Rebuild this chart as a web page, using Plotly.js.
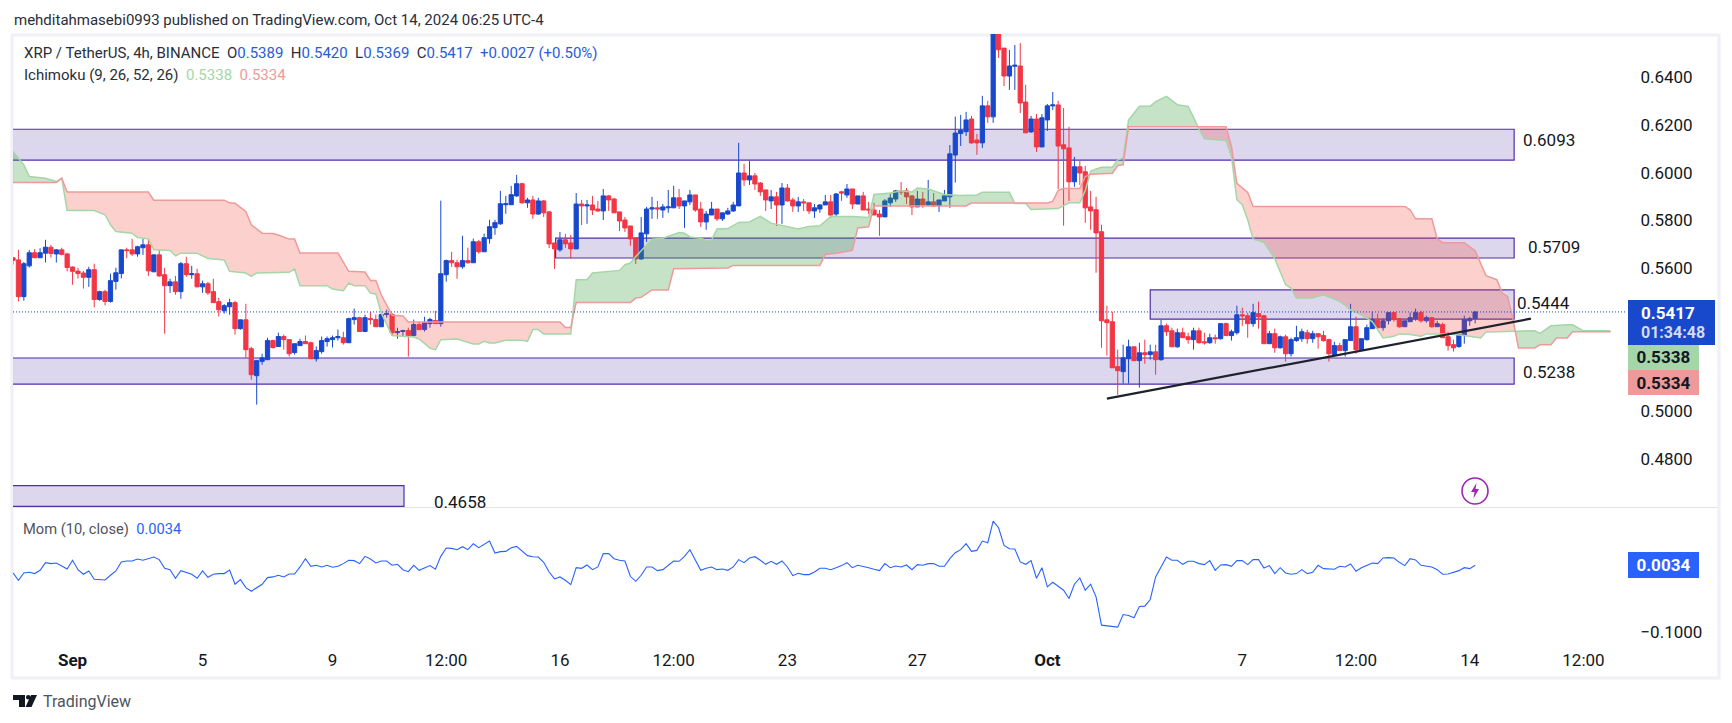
<!DOCTYPE html>
<html><head><meta charset="utf-8">
<script src="https://cdn.plot.ly/plotly-3.0.1.min.js"></script>
<style>html,body{margin:0;padding:0;background:#fff}#c{width:1732px;height:723px}</style>
</head><body><div id="c"></div>
<script>
// ---------- values ----------
var firstBar = '2024-08-30 04:00';
var opens = [
.5644,.5635,.5481,.5610,.5665,.5644,.5663,.5688,.5660,.5677,
.5660,.5605,.5588,.5580,.5562,.5594,.5469,.5502,.5461,.5545,
.5578,.5677,.5677,.5660,.5686,.5698,.5585,.5656,.5573,.5527,
.5543,.5502,.5619,.5573,.5577,.5522,.5535,.5502,.5460,.5422,
.5439,.5456,.5347,.5384,.5263,.5150,.5210,.5217,.5297,.5272,
.5314,.5301,.5247,.5276,.5293,.5288,.5221,.5251,.5293,.5301,
.5309,.5309,.5288,.5385,.5393,.5335,.5389,.5385,.5355,.5406,
.5406,.5330,.5335,.5339,.5318,.5364,.5343,.5368,.5381,.5368,
.5573,.5632,.5623,.5606,.5632,.5623,.5711,.5669,.5724,.5770,
.5786,.5866,.5866,.5903,.5954,.5874,.5886,.5827,.5882,.5836,
.5706,.5677,.5719,.5706,.5681,.5869,.5861,.5865,.5848,.5840,
.5903,.5890,.5836,.5802,.5777,.5727,.5639,.5744,.5848,.5853,
.5844,.5853,.5853,.5895,.5861,.5878,.5907,.5848,.5794,.5823,
.5848,.5807,.5827,.5840,.5861,.5999,.5970,.5987,.5957,.5928,
.5882,.5899,.5865,.5936,.5886,.5861,.5878,.5874,.5840,.5848,
.5865,.5878,.5827,.5920,.5907,.5932,.5869,.5903,.5848,.5844,
.5827,.5815,.5874,.5890,.5924,.5924,.5903,.5857,.5890,.5865,
.5878,.5861,.5882,.5899,.6074,.6164,.6172,.6225,.6137,.6125,
.6280,.6234,.6600,.6522,.6405,.6446,.6447,.6296,.6171,.6225,
.6108,.6221,.6280,.6284,.6117,.6104,.5962,.6025,.6004,.5857,
.5845,.5753,.5384,.5376,.5188,.5167,.5221,.5271,.5213,.5246,
.5238,.5250,.5217,.5359,.5338,.5271,.5330,.5313,.5301,.5338,
.5292,.5288,.5309,.5305,.5368,.5318,.5330,.5405,.5401,.5368,
.5410,.5401,.5284,.5326,.5267,.5313,.5242,.5297,.5305,.5330,
.5305,.5326,.5318,.5301,.5238,.5276,.5255,.5297,.5355,.5259,
.5301,.5347,.5385,.5351,.5380,.5414,.5389,.5355,.5376,.5389,
.5414,.5380,.5393,.5355,.5364,.5313,.5280,.5272,.5318,.5380,.5389];
var highs = [
.5647,.5677,.5626,.5677,.5680,.5684,.5719,.5698,.5680,.5686,
.5665,.5608,.5602,.5589,.5606,.5619,.5506,.5510,.5577,.5602,
.5677,.5686,.5723,.5694,.5723,.5723,.5656,.5677,.5602,.5556,
.5568,.5627,.5648,.5610,.5598,.5548,.5543,.5556,.5476,.5450,
.5472,.5464,.5384,.5451,.5271,.5213,.5242,.5309,.5301,.5330,
.5322,.5301,.5284,.5305,.5318,.5293,.5272,.5314,.5314,.5318,
.5343,.5334,.5393,.5431,.5397,.5406,.5417,.5406,.5413,.5427,
.5413,.5351,.5343,.5351,.5385,.5376,.5397,.5393,.5422,.5883,
.5636,.5669,.5636,.5736,.5686,.5724,.5719,.5745,.5803,.5803,
.5924,.5903,.5945,.5991,.5958,.5895,.5903,.5895,.5886,.5840,
.5706,.5752,.5744,.5740,.5915,.5886,.5886,.5903,.5882,.5932,
.5907,.5895,.5836,.5815,.5777,.5731,.5815,.5857,.5899,.5882,
.5869,.5928,.5945,.5932,.5882,.5928,.5907,.5878,.5840,.5878,
.5848,.5832,.5853,.5878,.6125,.6037,.6049,.5999,.5961,.5928,
.5928,.5920,.5957,.5953,.5895,.5899,.5890,.5874,.5869,.5869,
.5907,.5907,.5915,.5924,.5953,.5932,.5903,.5920,.5878,.5874,
.5844,.5890,.5911,.5928,.5961,.5936,.5907,.5924,.5920,.5970,
.5915,.5886,.5928,.6116,.6235,.6242,.6255,.6238,.6163,.6322,
.6301,.6640,.6620,.6522,.6514,.6535,.6543,.6368,.6238,.6246,
.6246,.6288,.6338,.6301,.6271,.6192,.6066,.6050,.6029,.5924,
.5899,.5782,.5443,.5418,.5259,.5280,.5301,.5271,.5288,.5301,
.5280,.5280,.5384,.5368,.5351,.5347,.5351,.5330,.5351,.5351,
.5330,.5326,.5322,.5368,.5372,.5343,.5443,.5435,.5414,.5451,
.5460,.5405,.5338,.5347,.5318,.5322,.5309,.5359,.5347,.5343,
.5338,.5326,.5338,.5305,.5292,.5288,.5301,.5451,.5397,.5305,
.5364,.5418,.5410,.5389,.5414,.5414,.5389,.5380,.5414,.5431,
.5422,.5401,.5393,.5380,.5372,.5334,.5301,.5322,.5401,.5397,.5420];
var lows = [
.5615,.5461,.5464,.5603,.5644,.5644,.5624,.5645,.5624,.5654,
.5587,.5531,.5557,.5515,.5522,.5436,.5464,.5444,.5456,.5510,
.5557,.5642,.5652,.5648,.5656,.5568,.5585,.5564,.5326,.5497,
.5489,.5472,.5564,.5556,.5520,.5497,.5488,.5456,.5398,.5410,
.5405,.5322,.5343,.5225,.5133,.5029,.5196,.5217,.5263,.5272,
.5259,.5230,.5238,.5276,.5284,.5221,.5209,.5242,.5272,.5268,
.5297,.5280,.5288,.5364,.5335,.5335,.5364,.5355,.5355,.5393,
.5318,.5305,.5314,.5230,.5318,.5343,.5335,.5351,.5368,.5355,
.5544,.5606,.5556,.5598,.5619,.5623,.5661,.5669,.5703,.5740,
.5782,.5828,.5866,.5899,.5870,.5853,.5807,.5823,.5815,.5685,
.5597,.5669,.5685,.5642,.5681,.5781,.5786,.5823,.5836,.5802,
.5840,.5832,.5756,.5752,.5694,.5618,.5635,.5710,.5807,.5807,
.5811,.5832,.5853,.5848,.5769,.5865,.5836,.5773,.5761,.5823,
.5798,.5798,.5823,.5836,.5861,.5945,.5949,.5928,.5903,.5840,
.5848,.5777,.5786,.5878,.5836,.5836,.5840,.5827,.5811,.5832,
.5865,.5811,.5819,.5882,.5895,.5848,.5869,.5844,.5827,.5823,
.5736,.5815,.5857,.5878,.5907,.5869,.5823,.5857,.5853,.5865,
.5857,.5836,.5882,.5853,.5959,.6112,.6154,.6121,.6075,.6104,
.6209,.6209,.6481,.6363,.6347,.6347,.6250,.6167,.6167,.6087,
.6108,.6175,.6263,.5932,.5778,.5882,.5941,.5949,.5790,.5761,
.5581,.5267,.5234,.5183,.5070,.5117,.5117,.5213,.5100,.5200,
.5217,.5154,.5213,.5317,.5271,.5267,.5309,.5284,.5259,.5284,
.5280,.5284,.5284,.5301,.5318,.5297,.5322,.5359,.5309,.5355,
.5347,.5284,.5284,.5246,.5263,.5209,.5230,.5292,.5292,.5284,
.5288,.5263,.5292,.5209,.5234,.5255,.5230,.5297,.5242,.5255,
.5297,.5347,.5347,.5338,.5364,.5376,.5351,.5355,.5376,.5380,
.5372,.5372,.5351,.5355,.5309,.5255,.5251,.5267,.5284,.5359,.5369];
var closes = [
.5633,.5481,.5619,.5665,.5644,.5665,.5688,.5662,.5677,.5658,
.5603,.5587,.5578,.5562,.5594,.5469,.5502,.5461,.5548,.5581,
.5677,.5674,.5660,.5690,.5698,.5589,.5656,.5568,.5527,.5543,
.5502,.5619,.5573,.5577,.5522,.5535,.5497,.5456,.5426,.5443,
.5456,.5347,.5384,.5259,.5154,.5213,.5225,.5297,.5268,.5314,
.5301,.5242,.5284,.5293,.5284,.5221,.5255,.5297,.5305,.5309,
.5314,.5288,.5389,.5393,.5335,.5393,.5385,.5355,.5406,.5410,
.5330,.5335,.5339,.5318,.5364,.5343,.5372,.5385,.5368,.5577,
.5632,.5623,.5606,.5632,.5623,.5711,.5669,.5728,.5774,.5791,
.5870,.5870,.5908,.5954,.5874,.5886,.5827,.5882,.5832,.5702,
.5681,.5719,.5702,.5681,.5869,.5861,.5865,.5844,.5840,.5903,
.5886,.5832,.5798,.5769,.5723,.5639,.5748,.5848,.5853,.5848,
.5857,.5857,.5895,.5861,.5882,.5907,.5844,.5794,.5827,.5848,
.5807,.5832,.5840,.5865,.5999,.5970,.5987,.5953,.5920,.5886,
.5899,.5865,.5936,.5882,.5861,.5878,.5874,.5840,.5853,.5865,
.5878,.5823,.5911,.5915,.5932,.5869,.5903,.5844,.5844,.5823,
.5815,.5882,.5894,.5924,.5920,.5899,.5857,.5890,.5865,.5878,
.5861,.5886,.5903,.6079,.6166,.6177,.6221,.6125,.6125,.6280,
.6234,.6600,.6515,.6405,.6447,.6450,.6292,.6167,.6225,.6108,
.6230,.6280,.6284,.6112,.6100,.5962,.6025,.5999,.5853,.5840,
.5748,.5380,.5372,.5183,.5171,.5225,.5271,.5213,.5246,.5238,
.5250,.5217,.5359,.5334,.5271,.5330,.5309,.5301,.5338,.5288,
.5288,.5309,.5305,.5368,.5318,.5334,.5405,.5401,.5368,.5414,
.5397,.5284,.5326,.5267,.5313,.5242,.5301,.5309,.5334,.5305,
.5326,.5313,.5297,.5242,.5276,.5255,.5301,.5355,.5259,.5305,
.5351,.5385,.5351,.5380,.5414,.5385,.5355,.5380,.5393,.5414,
.5380,.5393,.5355,.5368,.5309,.5276,.5267,.5322,.5385,.5389,.5417];
var momentum = [
-.0085,-.0199,-.0085,-.0075,-.0095,-.0044,.0075,.0060,.0070,.0018,
-.0023,.0112,-.0034,-.0106,-.0054,-.0183,-.0183,-.0194,-.0121,-.0054,
.0086,.0101,.0101,.0132,.0112,.0132,.0163,.0122,-.0013,-.0034,
-.0168,-.0049,-.0075,-.0106,-.0168,-.0054,-.0152,-.0106,-.0095,-.0095,
-.0039,-.0261,-.0189,-.0313,-.0370,-.0318,-.0261,-.0158,-.0147,-.0121,
-.0147,-.0101,-.0101,.0008,.0137,.0018,.0034,.0008,.0034,.0003,
.0018,.0060,.0112,.0106,.0060,.0173,.0132,.0070,.0101,.0101,
.0034,.0049,-.0034,-.0065,.0034,-.0044,-.0003,.0029,-.0028,.0173,
.0302,.0297,.0277,.0323,.0277,.0370,.0308,.0359,.0411,.0225,
.0246,.0251,.0308,.0328,.0256,.0184,.0168,.0163,.0080,-.0070,
-.0178,-.0147,-.0199,-.0266,-.0003,-.0013,.0039,-.0034,.0008,.0215,
.0215,.0137,.0112,.0101,-.0137,-.0215,-.0121,.0008,.0008,-.0049,
-.0034,.0029,.0101,.0096,.0173,.0277,.0112,-.0044,-.0013,.0008,
-.0034,-.0023,-.0044,.0008,.0122,.0075,.0148,.0168,.0112,.0049,
.0096,.0049,.0101,.0008,-.0127,-.0090,-.0111,-.0111,-.0070,-.0013,
-.0013,-.0034,-.0003,.0029,.0075,-.0003,.0034,.0018,-.0003,-.0028,
-.0049,.0060,-.0003,.0023,.0008,.0039,-.0034,.0044,.0034,.0060,
.0060,.0018,.0018,.0137,.0230,.0277,.0370,.0251,.0266,.0411,
.0385,.0721,.0618,.0344,.0292,.0287,.0086,.0049,.0106,-.0168,
-.0003,-.0302,-.0230,-.0292,-.0354,-.0483,-.0261,-.0163,-.0354,-.0261,
-.0457,-.0897,-.0907,-.0928,-.0928,-.0732,-.0747,-.0783,-.0607,-.0602,
-.0498,-.0147,-.0003,.0163,.0112,.0112,.0049,.0096,.0096,.0060,
.0044,.0106,-.0044,.0039,.0044,.0018,.0106,.0106,.0044,.0122,
.0122,-.0008,.0029,-.0095,-.0003,-.0085,-.0106,-.0095,-.0034,-.0095,
-.0075,.0034,-.0018,-.0023,-.0028,.0018,.0008,.0054,-.0059,-.0003,
.0034,.0070,.0060,.0148,.0153,.0148,.0080,.0029,.0137,.0117,
.0034,.0018,.0008,-.0034,-.0106,-.0101,-.0075,-.0049,-.0003,-.0018,.0034];
var leadABars = [0,2,3,6,8,9,10,15,17,18,19,22,23,25,26,29,30,31,34,36,39,40,43,44,45,51,52,53,58,59,61,62,63,65,66,67,68,70,74,75,77,78,79,82,85,86,87,88,89,91,94,95,96,97,98,103,104,106,107,112,113,114,115,117,118,120,123,124,125,127,128,129,130,132,134,136,138,140,143,145,147,149,151,155,158,159,162,164,166,167,169,171,172,175,178,179,184,185,187,188,193,195,197,198,199,200,201,203,204,205,206,208,210,211,213,215,217,218,219,220,223,224,225,226,227,228,229,231,233,235,236,237,240,242,245,246,247,249,251,252,253,255,256,258,260,261,265,268,270,271,272,277,278,281,282,284,287,288,290,295];
var leadA = [.6089,.6033,.5984,.5977,.5963,.5977,.5842,.5842,.5824,.5782,.5754,.5747,.5729,.5723,.5677,.5674,.5652,.5663,.5663,.5641,.5635,.5587,.5580,.5566,.5580,.5583,.5597,.5527,.5527,.5513,.5506,.5538,.5527,.5527,.5496,.5492,.5413,.5318,.5312,.5304,.5266,.5258,.5301,.5304,.5283,.5283,.5294,.5287,.5287,.5298,.5298,.5294,.5343,.5343,.5325,.5325,.5552,.5552,.5580,.5591,.5615,.5622,.5649,.5698,.5722,.5726,.5750,.5747,.5731,.5726,.5716,.5718,.5764,.5766,.5792,.5794,.5817,.5789,.5775,.5764,.5775,.5778,.5817,.5817,.5813,.5909,.5915,.5924,.5919,.5936,.5932,.5915,.5909,.5905,.5907,.5918,.5918,.5871,.5871,.5846,.5850,.5874,.5874,.5925,.6006,.6016,.6023,.6023,.6054,.6061,.6221,.6278,.6278,.6298,.6320,.6285,.6278,.6232,.6183,.6142,.6135,.6135,.6068,.5887,.5866,.5803,.5723,.5708,.5640,.5531,.5517,.5475,.5475,.5489,.5461,.5445,.5425,.5405,.5377,.5340,.5308,.5315,.5325,.5322,.5315,.5325,.5325,.5318,.5312,.5308,.5333,.5336,.5338,.5338,.5327,.5359,.5363,.5363,.5338,.5338];
var leadBBars = [0,8,9,10,25,26,39,40,41,43,44,46,48,49,51,52,53,60,62,65,66,67,68,70,72,73,101,102,103,104,114,115,116,118,121,122,132,133,149,150,152,155,156,158,159,176,177,191,192,193,194,197,198,199,203,204,205,206,224,225,226,228,229,257,258,259,262,263,264,268,270,272,274,275,276,277,278,281,282,284,285,287,288,295];
var leadB = [.5959,.5959,.5977,.5919,.5919,.5885,.5885,.5874,.5872,.5838,.5782,.5747,.5745,.5739,.5722,.5722,.5664,.5664,.5587,.5584,.5549,.5549,.5489,.5403,.5400,.5375,.5375,.5352,.5352,.5457,.5457,.5475,.5478,.5509,.5509,.5598,.5601,.5612,.5612,.5658,.5663,.5675,.5769,.5774,.5861,.5861,.5873,.5873,.5880,.5926,.5934,.5934,.5984,.5994,.5998,.6030,.6033,.6193,.6193,.6110,.5956,.5917,.5859,.5859,.5845,.5807,.5807,.5723,.5707,.5707,.5673,.5569,.5552,.5496,.5482,.5384,.5266,.5266,.5280,.5280,.5308,.5308,.5334,.5334];
// purple zones: top price, bottom price, first bar, last bar, label
var zoneTop    = [.6182,.5726,.5509,.5224,.4690];
var zoneBottom = [.6053,.5643,.5387,.5115,.4603];
var zoneStart  = [-2,100.2,210,-2,-2];
var zoneEnd    = [277.2,277.2,277.2,277.2,72.2];
var zoneLabels = ['0.6093','0.5709','0.5444','0.5238','0.4658'];
var trendBars  = [202,280.3];
var trendPrice = [.5054,.5389];
var lastPrice  = .5417;
var priceTicks = [.48,.50,.56,.58,.60,.62,.64];
var momTicks = [-.1];
var momTickText = ['\u22120.1000'];
var timeTicks = ['2024-09-01','2024-09-05','2024-09-09','2024-09-12 12:00','2024-09-16','2024-09-19 12:00','2024-09-23','2024-09-27','2024-10-01','2024-10-07','2024-10-10 12:00','2024-10-14','2024-10-17 12:00'];
var timeText = ['<b>Sep</b>','5','9','12:00','16','12:00','23','27','<b>Oct</b>','7','12:00','14','12:00'];

// ---------- helpers ----------
var FONT = 'Roboto, Arial, sans-serif';
var BLUE='#1848cc', RED='#f23645', GREEN_L='#a5d6a7', RED_L='#ef9a9a';
var L=13,R=1627,T=34,B=645,PANE=507.5;
var t0 = Date.UTC(2024,7,30,4);
function barTime(i){return new Date(t0+i*4*3600e3).toISOString().slice(0,19).replace('T',' ');}
function sx(px){return (px-L)/(R-L);}
function sy(py){return (B-py)/(B-T);}
var barTimes = opens.map(function(_,i){return barTime(i);});

function lerp(xs,ys,x){
  for(var i=1;i<xs.length;i++){ if(x<=xs[i]){var f=(x-xs[i-1])/(xs[i]-xs[i-1]);return ys[i-1]+f*(ys[i]-ys[i-1]);} }
  return ys[ys.length-1];
}
// kumo fill: one polygon per run where A stays above or below B
var grid = Array.from(new Set(leadABars.concat(leadBBars))).sort(function(a,b){return a-b;});
var runs=[], cur=null, prev=null;
grid.forEach(function(g){
  var a=lerp(leadABars,leadA,g), b=lerp(leadBBars,leadB,g), up=a>=b;
  if(prev && prev.up!==up){
    var d0=prev.a-prev.b, d1=a-b, f=d0/(d0-d1), gx=prev.g+f*(g-prev.g), v=prev.a+f*(a-prev.a);
    cur.pts.push({g:gx,a:v,b:v}); runs.push(cur); cur={up:up,pts:[{g:gx,a:v,b:v}]};
  }
  if(!cur) cur={up:up,pts:[]};
  cur.pts.push({g:g,a:a,b:b}); prev={g:g,a:a,b:b,up:up};
});
runs.push(cur);
var traces = runs.map(function(r){
  var xs=r.pts.map(function(p){return barTime(p.g);}), ya=r.pts.map(function(p){return p.a;}), yb=r.pts.map(function(p){return p.b;});
  return {type:'scatter',mode:'lines',x:xs.concat(xs.slice().reverse()),y:ya.concat(yb.slice().reverse()),
    fill:'toself',fillcolor:r.up?'rgba(67,160,71,0.3)':'rgba(244,67,54,0.25)',line:{width:0},hoverinfo:'skip',xaxis:'x',yaxis:'y'};
});
traces.push({type:'scatter',mode:'lines',x:leadABars.map(barTime),y:leadA,line:{color:GREEN_L,width:1.5},hoverinfo:'skip'});
traces.push({type:'scatter',mode:'lines',x:leadBBars.map(barTime),y:leadB,line:{color:RED_L,width:1.5},hoverinfo:'skip'});
traces.push({type:'scatter',mode:'lines',x:['2024-08-30 04:00','2024-10-18 20:00'],y:[lastPrice,lastPrice],line:{color:BLUE,width:1,dash:'1px,2px'},hoverinfo:'skip'});
traces.push({type:'candlestick',x:barTimes,open:opens,high:highs,low:lows,close:closes,whiskerwidth:0,
  increasing:{line:{color:BLUE,width:1},fillcolor:BLUE},decreasing:{line:{color:RED,width:1},fillcolor:RED},hoverinfo:'skip',xaxis:'x',yaxis:'y'});
traces.push({type:'scatter',mode:'lines',x:trendBars.map(barTime),y:trendPrice,line:{color:'#1e222d',width:2.2},hoverinfo:'skip'});
traces.push({type:'scatter',mode:'lines',x:barTimes,y:momentum,line:{color:'#2962ff',width:1.1},hoverinfo:'skip',xaxis:'x',yaxis:'y2'});

var shapes=[
 {type:'rect',xref:'paper',yref:'paper',x0:sx(12),x1:sx(1719),y0:sy(35),y1:sy(678),line:{color:'#f0f0f6',width:3},layer:'below'},
 {type:'line',xref:'paper',yref:'paper',x0:sx(13),x1:sx(1718),y0:sy(507.5),y1:sy(507.5),line:{color:'#e0e3eb',width:1.2},layer:'below'}
];
zoneTop.forEach(function(t,i){
  shapes.push({type:'rect',xref:'x',yref:'y',x0:barTime(zoneStart[i]),x1:barTime(zoneEnd[i]),y0:zoneBottom[i],y1:t,
    fillcolor:'#dcd7ec',line:{color:'#512da8',width:1.2},layer:'below'});
});
// alert icon
shapes.push({type:'circle',xref:'paper',yref:'paper',x0:sx(1462),x1:sx(1488),y0:sy(478),y1:sy(504),line:{color:'#9c27b0',width:1.6},fillcolor:'rgba(255,255,255,0)'});
function poly(pts,color){
  return {type:'path',xref:'paper',yref:'paper',line:{width:0},fillcolor:color,
    path:pts.map(function(p,i){return (i?'L':'M')+sx(p[0])+' '+sy(p[1]);}).join(' ')+' Z'};
}
shapes.push(poly([[1476.5,483],[1471,492],[1474.5,492],[1473.5,498.5],[1479,489],[1475.5,489]],'#9c27b0'));
// TradingView mark
shapes.push(poly([[13,695],[25,695],[25,707],[19,707],[19,700],[13,700]],'#131722'));
shapes.push(poly([[31,695],[37,695],[31.5,707],[25.5,707]],'#131722'));
shapes.push({type:'circle',xref:'paper',yref:'paper',x0:sx(26),x1:sx(30.5),y0:sy(695),y1:sy(699.5),line:{width:0},fillcolor:'#131722'});

function note(px,py,text,size,color,extra){
  var a={xref:'paper',yref:'paper',x:sx(px),y:sy(py),text:text,showarrow:false,xanchor:'left',yanchor:'middle',
    font:{family:FONT,size:size,color:color},align:'left',borderpad:0};
  if(extra) for(var k in extra) a[k]=extra[k];
  return a;
}
function box(x0,x1,y0,y1,text,size,fg,bg){
  return {xref:'paper',yref:'paper',x:sx((x0+x1)/2),y:sy((y0+y1)/2),xanchor:'center',yanchor:'middle',showarrow:false,
    width:x1-x0,height:y1-y0,bgcolor:bg,text:text,align:'left',valign:'middle',borderpad:0,borderwidth:0,
    font:{family:FONT,size:size,color:fg}};
}
function val(c,t){return '<span style="color:'+c+'">'+t+'</span>';}
var VAL='#2a5bd7', SP='\u00a0\u00a0';
var ann=[
 note(13,20,'mehditahmasebi0993 published on TradingView.com, Oct 14, 2024 06:25 UTC-4',15,'#2a2e39'),
 note(23,53,'XRP / TetherUS, 4h, BINANCE'+SP+'O'+val(VAL,'0.5389')+SP+'H'+val(VAL,'0.5420')+SP+'L'+val(VAL,'0.5369')+SP+'C'+val(VAL,'0.5417')+SP+val(VAL,'+0.0027 (+0.50%)'),15,'#2a2e39'),
 note(23,75,'Ichimoku (9, 26, 52, 26)'+SP+val(GREEN_L,'0.5338')+SP+val(RED_L,'0.5334'),15,'#2a2e39'),
 note(22,528.5,'Mom (10, close)'+SP+val('#2962ff','0.0034'),14.7,'#50535e'),
 note(1522,139.5,zoneLabels[0],17,'#131722'),
 note(1527,246.7,zoneLabels[1],17,'#131722'),
 note(1516,303.3,zoneLabels[2],17,'#131722'),
 note(1522,371.7,zoneLabels[3],17,'#131722'),
 note(433,501.7,zoneLabels[4],17,'#131722'),
 box(1628,1715,300,344.5,' ',10,'#fff',BLUE),
 note(1640,312.7,'<b>0.5417</b>',17,'#ffffff'),
 note(1640,332,'<b>01:34:48</b>',16,'#d5dcf5'),
 box(1628,1698.5,345,369.5,SP+'<b>0.5338</b>',17,'#131722',GREEN_L),
 box(1628,1698.5,370,395,SP+'<b>0.5334</b>',17,'#131722',RED_L),
 box(1628,1699,552.5,578,SP+'<b>0.0034</b>',17,'#ffffff','#2962ff'),
 note(42,701.7,'TradingView',16,'#50535e')
];

var layout={
 width:1732,height:723,autosize:false,paper_bgcolor:'#fff',plot_bgcolor:'rgba(0,0,0,0)',showlegend:false,
 margin:{l:L,r:1732-R,t:T,b:723-B,pad:0},
 font:{family:FONT,size:17,color:'#131722'},hovermode:false,boxgap:0.22,boxgroupgap:0,
 xaxis:{type:'date',domain:[0,1],range:['2024-08-30 04:00','2024-10-18 20:10'],anchor:'y2',showgrid:false,zeroline:false,showline:false,
   tickmode:'array',tickvals:timeTicks,ticktext:timeText,ticks:'outside',ticklen:0,tickcolor:'rgba(0,0,0,0)',tickfont:{family:FONT,size:17,color:'#131722'},
   rangeslider:{visible:false},fixedrange:true},
 yaxis:{domain:[(B-PANE)/(B-T),1],range:[.4598,.6581],side:'right',anchor:'x',showgrid:false,zeroline:false,showline:false,
   tickmode:'array',tickvals:priceTicks,ticktext:priceTicks.map(function(v){return v.toFixed(4);}),ticks:'outside',ticklen:9,tickcolor:'rgba(0,0,0,0)',tickfont:{family:FONT,size:17,color:'#131722'},fixedrange:true},
 yaxis2:{domain:[0,(B-PANE)/(B-T)],range:[-.1206,.0933],side:'right',anchor:'x',showgrid:false,zeroline:false,showline:false,
   tickmode:'array',tickvals:momTicks,ticktext:momTickText,ticks:'outside',ticklen:9,tickcolor:'rgba(0,0,0,0)',tickfont:{family:FONT,size:17,color:'#131722'},fixedrange:true},
 shapes:shapes,annotations:ann
};
Plotly.newPlot('c',traces,layout,{staticPlot:true,displayModeBar:false});
</script></body></html>
